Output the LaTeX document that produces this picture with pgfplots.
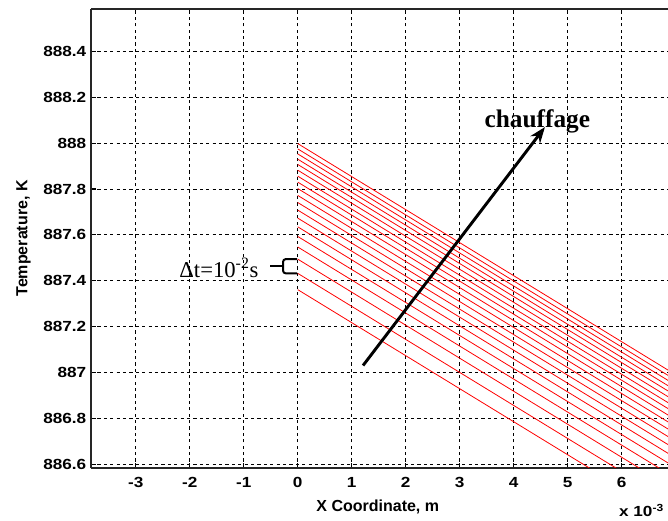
\documentclass[border=0pt]{standalone}
\usepackage{fontspec}
\setmainfont{Liberation Serif}
\setsansfont{Liberation Sans}
\newfontfamily\tickfont[FakeStretch=1.17]{Liberation Sans}
\usepackage{pgfplots}
\pgfplotsset{compat=1.18}
\usetikzlibrary{arrows.meta}
\begin{document}
\begin{tikzpicture}
\begin{axis}[
  scale only axis, width=432.75pt, height=344.25pt,
  xmin=-3.83, xmax=6.86, ymin=886.583, ymax=888.585,
  axis x line*=box, axis y line*=left,
  axis line style={black!85, line width=1pt},
  xtick={-3,-2,...,6},
  ytick={886.6,886.8,887,887.2,887.4,887.6,887.8,888,888.2,888.4},
  scaled ticks=false,
  yticklabel style={/pgf/number format/fixed, /pgf/number format/precision=1},
  tick label style={font=\tickfont\bfseries\fontsize{11}{13}\selectfont},
  /pgf/number format/assume math mode=true,
  xticklabel style={yshift=-3.5pt},
  tick align=inside, major tick length=4pt,
  tick style={black, line width=0.8pt},
  xtick pos=bottom, ytick pos=left,
  grid=major,
  major grid style={black, dash pattern=on 2.4pt off 2.4pt, line width=0.6pt},
  xlabel={X Coordinate, m},
  ylabel={Temperature, K},
  label style={font=\sffamily\bfseries\fontsize{12}{14}\selectfont},
  xlabel style={at={(axis description cs:0.497,-0.085)}, anchor=center},
  ylabel style={at={(axis description cs:-0.117,0.5)}, anchor=center},
  clip mode=individual,
]
\addplot[red, line width=0.6pt] coordinates {(0,887.361) (7,886.353)};
\addplot[red, line width=0.6pt] coordinates {(0,887.432) (7,886.424)};
\addplot[red, line width=0.6pt] coordinates {(0,887.494) (7,886.486)};
\addplot[red, line width=0.6pt] coordinates {(0,887.547) (7,886.539)};
\addplot[red, line width=0.6pt] coordinates {(0,887.593) (7,886.585)};
\addplot[red, line width=0.6pt] coordinates {(0,887.635) (7,886.627)};
\addplot[red, line width=0.6pt] coordinates {(0,887.673) (7,886.665)};
\addplot[red, line width=0.6pt] coordinates {(0,887.708) (7,886.700)};
\addplot[red, line width=0.6pt] coordinates {(0,887.741) (7,886.733)};
\addplot[red, line width=0.6pt] coordinates {(0,887.772) (7,886.764)};
\addplot[red, line width=0.6pt] coordinates {(0,887.802) (7,886.794)};
\addplot[red, line width=0.6pt] coordinates {(0,887.830) (7,886.822)};
\addplot[red, line width=0.6pt] coordinates {(0,887.856) (7,886.848)};
\addplot[red, line width=0.6pt] coordinates {(0,887.882) (7,886.874)};
\addplot[red, line width=0.6pt] coordinates {(0,887.907) (7,886.899)};
\addplot[red, line width=0.6pt] coordinates {(0,887.930) (7,886.922)};
\addplot[red, line width=0.6pt] coordinates {(0,887.953) (7,886.945)};
\addplot[red, line width=0.6pt] coordinates {(0,887.975) (7,886.967)};
\addplot[red, line width=0.6pt] coordinates {(0,887.998) (7,886.990)};
\draw[line width=2.2pt, -{Stealth[length=12pt,width=9pt]}] (axis cs:1.21,887.03) -- (axis cs:4.58,888.07);
\node[font=\rmfamily\bfseries\fontsize{19}{22}\selectfont, anchor=base] at (axis cs:4.44,888.069) {chauffage};
\node[font=\rmfamily\fontsize{17}{20}\selectfont] at (axis cs:-1.46,887.456) {Δt=10\textsuperscript{-2}s};
\draw[line width=1.5pt, rounded corners=2pt] (axis cs:-0.013,887.494) -- (axis cs:-0.272,887.494) -- (axis cs:-0.272,887.432) -- (axis cs:-0.013,887.432);
\draw[line width=1.5pt] (axis cs:-0.513,887.463) -- (axis cs:-0.272,887.463);
\node[font=\tickfont\bfseries\fontsize{11}{13}\selectfont, anchor=base west, inner sep=0pt] at (axis cs:5.95,886.372) {x 10\textsuperscript{-3}};
\coordinate (SW) at (rel axis cs:0,0);
\coordinate (NE) at (rel axis cs:1,1);
\end{axis}
\pgfresetboundingbox
\path ([xshift=-68.25pt,yshift=-39.75pt]SW) rectangle ([yshift=6.75pt]NE);
\end{tikzpicture}
\end{document}
